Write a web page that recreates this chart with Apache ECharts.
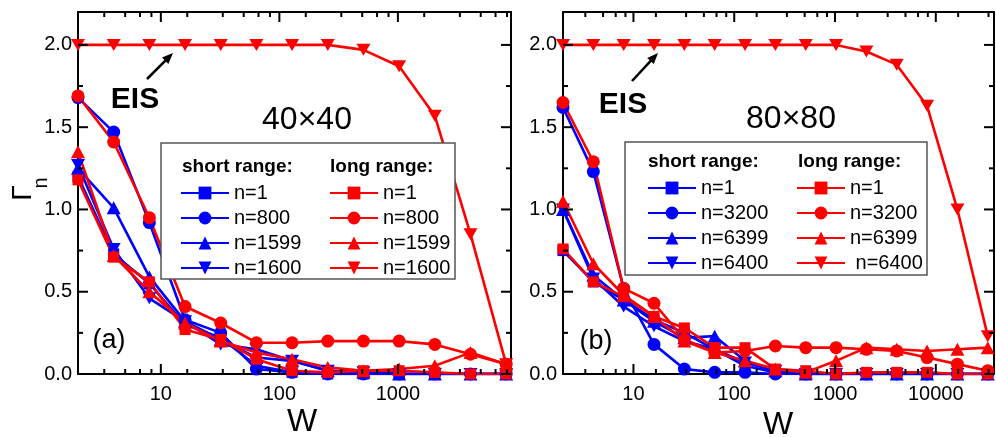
<!DOCTYPE html>
<html>
<head>
<meta charset="utf-8">
<script src="https://cdn.jsdelivr.net/npm/echarts@6/dist/echarts.min.js"></script>
<style>
  html, body { margin: 0; padding: 0; background: #fff; }
  #chart { width: 996px; height: 437px; }
</style>
</head>
<body>
<div id="chart"></div>
<script>
// System widths W (log axis) for both lattices
const W_A = [2, 4, 8, 16, 32, 64, 128, 256, 512, 1024, 2048, 4096, 8192];
const W_B = [2, 4, 8, 16, 32, 64, 128, 256, 512, 1024, 2048, 4096, 8192, 16384, 32768];

// (a) 40x40, short range hopping
const A_SHORT_N1    = [1.20, 0.73, 0.55, 0.30, 0.22, 0.05, 0.01, 0.00, 0.00, 0.00, 0.00, 0.00, 0.00];
const A_SHORT_N800  = [1.68, 1.47, 0.92, 0.33, 0.25, 0.03, 0.01, 0.00, 0.00, 0.00, 0.00, 0.00, 0.00];
const A_SHORT_N1599 = [1.25, 1.01, 0.59, 0.32, 0.21, 0.10, 0.08, 0.02, 0.01, 0.00, 0.00, 0.00, 0.00];
const A_SHORT_N1600 = [1.27, 0.76, 0.46, 0.32, 0.18, 0.15, 0.08, 0.02, 0.01, 0.00, 0.00, 0.00, 0.00];
// (a) 40x40, long range hopping
const A_LONG_N1     = [1.18, 0.71, 0.56, 0.27, 0.21, 0.09, 0.02, 0.01, 0.02, 0.02, 0.01, 0.00, 0.00];
const A_LONG_N800   = [1.69, 1.41, 0.95, 0.41, 0.31, 0.19, 0.19, 0.20, 0.20, 0.20, 0.18, 0.12, 0.06];
const A_LONG_N1599  = [1.35, 0.72, 0.50, 0.31, 0.20, 0.13, 0.09, 0.04, 0.02, 0.03, 0.05, 0.13, 0.06];
const A_LONG_N1600  = [2.00, 2.00, 2.00, 2.00, 2.00, 2.00, 2.00, 2.00, 1.97, 1.87, 1.57, 0.85, 0.06];

// (b) 80x80, short range hopping
const B_SHORT_N1    = [0.75, 0.56, 0.45, 0.33, 0.25, 0.15, 0.05, 0.01, 0.00, 0.00, 0.00, 0.00, 0.00, 0.00, 0.00];
const B_SHORT_N3200 = [1.62, 1.23, 0.52, 0.18, 0.03, 0.01, 0.01, 0.00, 0.00, 0.00, 0.00, 0.00, 0.00, 0.00, 0.00];
const B_SHORT_N6399 = [1.00, 0.60, 0.45, 0.32, 0.22, 0.23, 0.08, 0.02, 0.00, 0.00, 0.00, 0.00, 0.00, 0.00, 0.00];
const B_SHORT_N6400 = [1.00, 0.58, 0.41, 0.29, 0.20, 0.15, 0.07, 0.02, 0.00, 0.00, 0.00, 0.00, 0.00, 0.00, 0.00];
// (b) 80x80, long range hopping
const B_LONG_N1     = [0.76, 0.56, 0.47, 0.35, 0.28, 0.16, 0.16, 0.03, 0.02, 0.00, 0.01, 0.01, 0.01, 0.00, 0.00];
const B_LONG_N3200  = [1.65, 1.29, 0.52, 0.43, 0.21, 0.13, 0.14, 0.17, 0.16, 0.16, 0.15, 0.14, 0.10, 0.06, 0.02];
const B_LONG_N6399  = [1.05, 0.67, 0.48, 0.35, 0.20, 0.13, 0.08, 0.03, 0.01, 0.08, 0.16, 0.15, 0.14, 0.15, 0.16];
const B_LONG_N6400  = [2.00, 2.00, 2.00, 2.00, 2.00, 2.00, 2.00, 2.00, 2.00, 2.00, 1.96, 1.88, 1.63, 1.00, 0.23];

// Legend entries
const LABELS_A = ['n=1', 'n=800', 'n=1599', 'n=1600'];
const LABELS_B_SHORT = ['n=1', 'n=3200', 'n=6399', 'n=6400'];
const LABELS_B_LONG = ['n=1', 'n=3200', 'n=6399', ' n=6400'];

// Tick values
const X_LABELS = [10, 100, 1000, 10000];
const X_MINOR = [3.33, 5, 6.67, 8.33, 16.7, 33.3, 50, 66.7, 83.3, 167, 333, 500, 667, 833,
                 1667, 3333, 5000, 6667, 8333, 16667, 33333];
const Y_LABELS = [0, 0.5, 1.0, 1.5, 2.0];
const Y_MINOR = [0.25, 0.75, 1.25, 1.75];

const FONT = "'Liberation Sans', Arial, Helvetica, sans-serif";
const BLUE = '#0000ff';
const RED = '#ff0000';
const DOWN_TRI = 'path://M0,0L10,0L5,9Z';

const X_RANGE = [[2, 9000], [2, 37800]];
const Y_RANGE = [0, 2.2];
const GRIDS = [
  { left: 78, top: 12, width: 433, height: 362 },
  { left: 563, top: 12, width: 431, height: 362 }
];
const axisLine = () => ({ show: true, onZero: false, lineStyle: { color: '#000', width: 2 } });

function xAxes(grid) {
  const [min, max] = X_RANGE[grid];
  const base = {
    type: 'log', logBase: 10, gridIndex: grid, min, max,
    axisLine: axisLine(), axisTick: { show: false },
    splitLine: { show: false }, minorTick: { show: false }
  };
  return [
    Object.assign({}, base, {
      position: 'bottom',
      axisLabel: { show: true, customValues: X_LABELS.filter(v => v >= min && v <= max),
                   formatter: v => String(Math.round(v)),
                   fontSize: 20, fontFamily: FONT, color: '#000', margin: 10 }
    }),
    Object.assign({}, base, { position: 'top', axisLabel: { show: false } })
  ];
}
function yAxes(grid) {
  const base = {
    type: 'value', gridIndex: grid, min: Y_RANGE[0], max: Y_RANGE[1],
    axisLine: axisLine(), axisTick: { show: false },
    splitLine: { show: false }, minorTick: { show: false }
  };
  return [
    Object.assign({}, base, {
      position: 'left',
      axisLabel: { show: true, customValues: Y_LABELS, formatter: v => v.toFixed(1),
                   fontSize: 20, fontFamily: FONT, color: '#000', margin: 6 }
    }),
    Object.assign({}, base, { position: 'right', axisLabel: { show: false } })
  ];
}

const SYMBOLS = [
  { symbol: 'rect', size: 11 },
  { symbol: 'circle', size: 13 },
  { symbol: 'triangle', size: [14, 13] },
  { symbol: DOWN_TRI, size: [14, 12] }
];

function makeSeries(id, grid, xs, ys, color, k) {
  return {
    type: 'line', name: id, xAxisIndex: grid * 2, yAxisIndex: grid * 2,
    data: xs.map((x, i) => [x, ys[i]]),
    symbol: SYMBOLS[k].symbol, symbolSize: SYMBOLS[k].size,
    lineStyle: { color, width: 2.6 }, itemStyle: { color }
  };
}

const series = [];
const aShort = [A_SHORT_N1, A_SHORT_N800, A_SHORT_N1599, A_SHORT_N1600];
const aLong = [A_LONG_N1, A_LONG_N800, A_LONG_N1599, A_LONG_N1600];
const bShort = [B_SHORT_N1, B_SHORT_N3200, B_SHORT_N6399, B_SHORT_N6400];
const bLong = [B_LONG_N1, B_LONG_N3200, B_LONG_N6399, B_LONG_N6400];

const legendNames = { aS: [], aL: [], bS: [], bL: [] };
const display = {};
aShort.forEach((ys, k) => { const id = 'a|short|' + k; display[id] = LABELS_A[k]; legendNames.aS.push(id); series.push(makeSeries(id, 0, W_A, ys, BLUE, k)); });
bShort.forEach((ys, k) => { const id = 'b|short|' + k; display[id] = LABELS_B_SHORT[k]; legendNames.bS.push(id); series.push(makeSeries(id, 1, W_B, ys, BLUE, k)); });
aLong.forEach((ys, k) => { const id = 'a|long|' + k; display[id] = LABELS_A[k]; legendNames.aL.push(id); series.push(makeSeries(id, 0, W_A, ys, RED, k)); });
bLong.forEach((ys, k) => { const id = 'b|long|' + k; display[id] = LABELS_B_LONG[k]; legendNames.bL.push(id); series.push(makeSeries(id, 1, W_B, ys, RED, k)); });

// Inward tick marks on all four sides of each frame, drawn by custom series
// so that every mark is positioned by the grid's own log-W / Γn scales.
function tickSeries(grid, dir, vals, len) {
  const [xmin, xmax] = X_RANGE[grid];
  const data = dir === 'x'
    ? vals.filter(v => v >= xmin && v <= xmax).map(v => [v, Y_RANGE[0]])
    : vals.map(v => [xmin, v]);
  return {
    type: 'custom', xAxisIndex: grid * 2, yAxisIndex: grid * 2, z: 20, silent: true,
    clip: false, animation: false, data,
    renderItem: (params, api) => {
      const cs = params.coordSys;
      const p = api.coord([api.value(0), api.value(1)]);
      const style = { stroke: '#000', lineWidth: 2, fill: null };
      if (dir === 'x') {
        const b = cs.y + cs.height, t = cs.y;
        return { type: 'group', children: [
          { type: 'line', shape: { x1: p[0], y1: b, x2: p[0], y2: b - len }, style },
          { type: 'line', shape: { x1: p[0], y1: t, x2: p[0], y2: t + len }, style }
        ] };
      }
      const l = cs.x, r = cs.x + cs.width;
      return { type: 'group', children: [
        { type: 'line', shape: { x1: l, y1: p[1], x2: l + len, y2: p[1] }, style },
        { type: 'line', shape: { x1: r, y1: p[1], x2: r - len, y2: p[1] }, style }
      ] };
    }
  };
}
[0, 1].forEach(g => {
  series.push(tickSeries(g, 'x', X_LABELS, 10), tickSeries(g, 'x', X_MINOR, 5),
              tickSeries(g, 'y', Y_LABELS, 10), tickSeries(g, 'y', Y_MINOR, 5));
});

function legend(names, left, top) {
  return {
    data: names, left, top, orient: 'vertical', padding: 0,
    itemWidth: 48, itemHeight: 16, itemGap: 5, selectedMode: false, z: 60,
    textStyle: { fontSize: 20, fontFamily: FONT, color: '#000', lineHeight: 20 },
    formatter: n => display[n]
  };
}

function text(x, y, str, font, opts) {
  const o = opts || {};
  return {
    type: 'text', x, y, z: 70, rotation: o.rotation || 0,
    style: { text: str, font, fill: '#000', align: o.align || 'center', verticalAlign: 'middle' }
  };
}

function arrow(x0, y0, x1, y1) {
  const dx = x1 - x0, dy = y1 - y0, L = Math.hypot(dx, dy);
  const ux = dx / L, uy = dy / L, head = 11, half = 4.5;
  const bx = x1 - ux * head, by = y1 - uy * head;
  return [
    { type: 'line', z: 70, shape: { x1: x0, y1: y0, x2: bx + ux * 2, y2: by + uy * 2 },
      style: { stroke: '#000', lineWidth: 2.5 } },
    { type: 'polygon', z: 70,
      shape: { points: [[x1, y1], [bx - uy * half, by + ux * half], [bx + uy * half, by - ux * half]] },
      style: { fill: '#000' } }
  ];
}

const HEAD = 'bold 19px ' + FONT;
const graphic = [
  { type: 'rect', z: 50, shape: { x: 161, y: 143, width: 294, height: 136 },
    style: { fill: '#fff', stroke: '#555', lineWidth: 1.5 } },
  { type: 'rect', z: 50, shape: { x: 625, y: 142, width: 302, height: 133 },
    style: { fill: '#fff', stroke: '#555', lineWidth: 1.5 } },
  text(182, 167, 'short range:', HEAD, { align: 'left' }),
  text(330, 167, 'long range:', HEAD, { align: 'left' }),
  text(648, 162, 'short range:', HEAD, { align: 'left' }),
  text(798, 162, 'long range:', HEAD, { align: 'left' }),
  text(135, 100, 'EIS', 'bold 30px ' + FONT),
  text(623, 105, 'EIS', 'bold 30px ' + FONT),
  ...arrow(147, 79, 173, 53),
  ...arrow(632, 81, 658, 53),
  text(307, 120, '40×40', '32px ' + FONT),
  text(791, 119, '80×80', '32px ' + FONT),
  text(109, 341, '(a)', '27px ' + FONT),
  text(596, 342, '(b)', '27px ' + FONT),
  text(302, 422, 'W', '32px ' + FONT),
  text(778, 425, 'W', '32px ' + FONT),
  text(23, 193, 'Γ', '28px ' + FONT, { rotation: Math.PI / 2 }),
  text(41, 183, 'n', '20px ' + FONT, { rotation: Math.PI / 2 })
];

const chart = echarts.init(document.getElementById('chart'));
chart.setOption({
  animation: false,
  backgroundColor: '#fff',
  grid: GRIDS.map(g => Object.assign({}, g)),
  xAxis: [...xAxes(0), ...xAxes(1)],
  yAxis: [...yAxes(0), ...yAxes(1)],
  legend: [
    legend(legendNames.aS, 180, 183),
    legend(legendNames.aL, 329, 183),
    legend(legendNames.bS, 647, 178),
    legend(legendNames.bL, 796, 178)
  ],
  graphic,
  series
});
</script>
</body>
</html>
